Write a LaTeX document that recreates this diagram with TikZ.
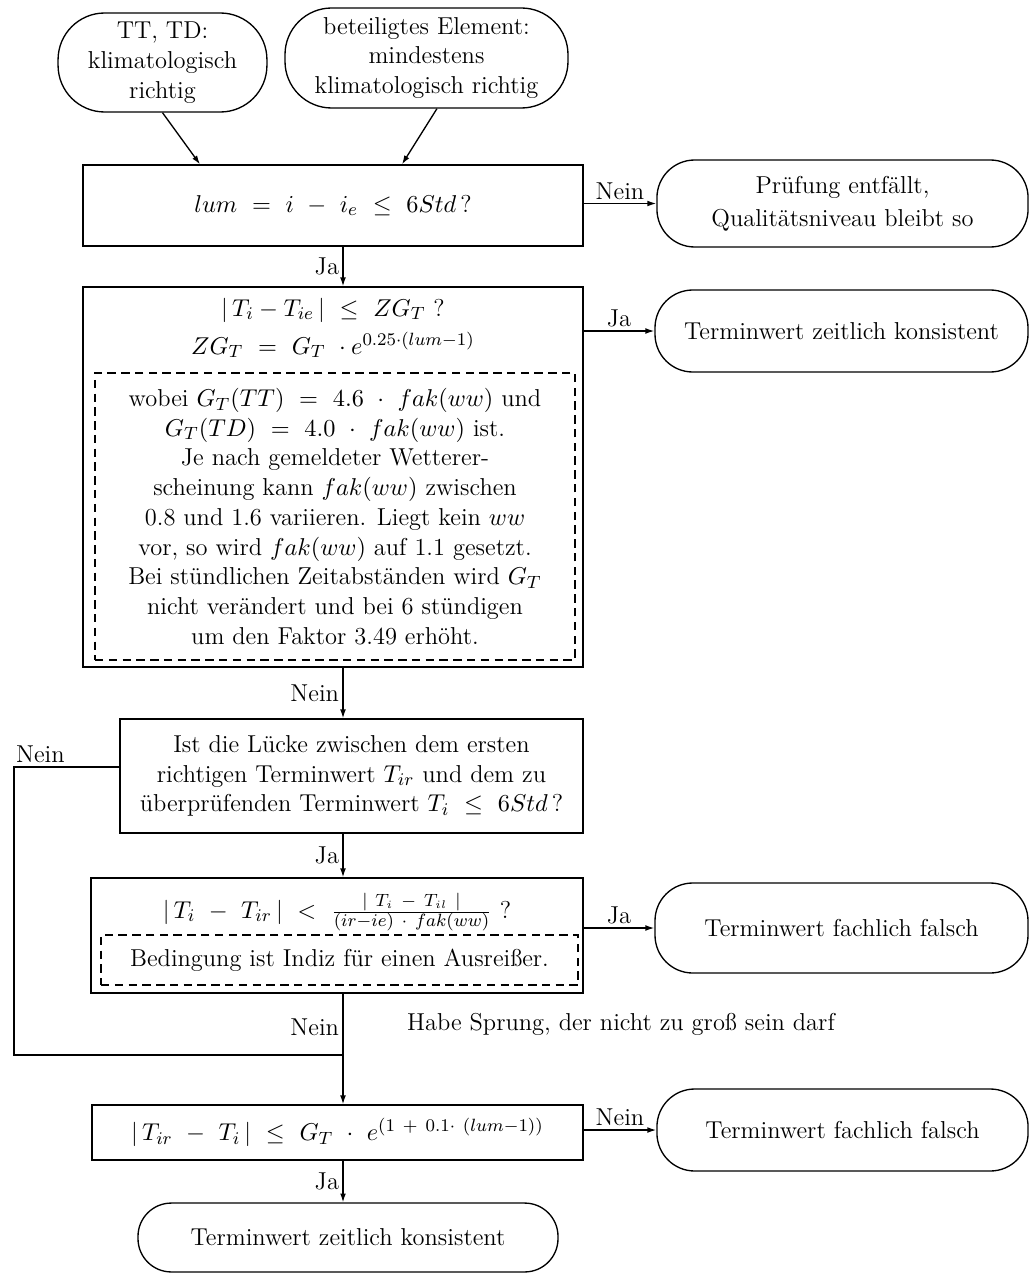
\documentclass[tikz,border=0pt]{standalone}
\usepackage{fontspec}
\usetikzlibrary{arrows.meta}
\begin{document}
\begin{tikzpicture}[x=0.45pt,y=-0.45pt,
  every node/.style={font=\fontsize{11}{13.4}\selectfont},
  box/.style={draw, line width=0.6pt, rectangle, inner sep=0pt, align=center},
  term/.style={draw, line width=0.6pt, rounded corners=17pt, align=center, inner sep=0pt},
  wide/.style={font=\fontsize{11}{15}\selectfont},
  note/.style={draw, line width=0.5pt, dash pattern=on 3.8pt off 2.4pt, inner sep=0pt, align=center},
  flow/.style={line width=0.6pt, -{Latex[length=4pt,width=2.6pt]}},
  link/.style={line width=0.6pt},
  lab/.style={inner sep=1.5pt}
]
\useasboundingbox (0,0) rectangle (1030,1276);

% start conditions
\node[term, rounded corners=21pt, minimum width=94pt, minimum height=44.55pt] (T1) at (162.5,62.5)
  {TT, TD:\\klimatologisch\\richtig};
\node[term, rounded corners=21pt, minimum width=127.35pt, minimum height=45pt] (T2) at (426.5,58)
  {beteiligtes Element:\\mindestens\\klimatologisch richtig};

% first test
\node[box, minimum width=225pt, minimum height=36.45pt] (B1) at (333,205.5)
  {$lum\ =\ i\ -\ i_e\ \leq\ 6Std$\,?};
\node[term, wide, minimum width=167pt, minimum height=39.15pt] (R1) at (842.5,203.5)
  {Prüfung entfällt,\\Qualitätsniveau bleibt so};

% time consistency test
\node[box, minimum width=225pt, minimum height=171pt] (B2) at (333,477) {};
\node (F1) at (333,310) {$|\,T_i - T_{ie}\,|\ \leq\ ZG_T$ ?};
\node (F2) at (333,345) {$ZG_T\ =\ G_T\ \cdot e^{0.25\cdot(lum-1)}$};
\node[note, minimum width=216pt, minimum height=129.15pt] (N1) at (335,516.5)
  {wobei $G_T(TT)\ =\ 4.6\ \cdot\ fak(ww)$ und\\
   $G_T(TD)\ =\ 4.0\ \cdot\ fak(ww)$ ist.\\
   Je nach gemeldeter Wetterer-\\
   scheinung kann $fak(ww)$ zwischen\\
   0.8 und 1.6 variieren. Liegt kein $ww$\\
   vor, so wird $fak(ww)$ auf 1.1 gesetzt.\\
   Bei stündlichen Zeitabständen wird $G_T$\\
   nicht verändert und bei 6 stündigen\\
   um den Faktor 3.49 erhöht.};
\node[term, minimum width=167.85pt, minimum height=36.9pt] (R2) at (841.5,331)
  {Terminwert zeitlich konsistent};

% gap test
\node[box, minimum width=208.35pt, minimum height=51.3pt] (B3) at (351.5,776)
  {Ist die Lücke zwischen dem ersten\\
   richtigen Terminwert $T_{ir}$ und dem zu\\
   überprüfenden Terminwert $T_i\ \leq\ 6Std$\,?};

% outlier test
\node[box, minimum width=221.4pt, minimum height=51.75pt] (B4) at (337,935.5) {};
\node (F3) at (337,912)
  {$|\,T_i\ -\ T_{ir}\,|\ <\ \frac{|\ T_i\ -\ T_{il}\ |}{(ir-ie)\ \cdot\ fak(ww)}$ ?};
\node[note, minimum width=214.65pt, minimum height=22.5pt] (N2) at (339.5,960)
  {Bedingung ist Indiz für einen Ausreißer.};
\node[term, minimum width=167.85pt, minimum height=40.5pt] (R3) at (841.5,928)
  {Terminwert fachlich falsch};

\node (S) at (621,1024) {Habe Sprung, der nicht zu groß sein darf};

% jump size test
\node[box, minimum width=221pt, minimum height=24.75pt] (B5) at (337.5,1132.5)
  {$|\,T_{ir}\ -\ T_i\,|\ \leq\ G_T\ \cdot\ e^{(1\ +\ 0.1\cdot\ (lum-1))}$};
\node[term, minimum width=167pt, minimum height=36.9pt] (R4) at (842.5,1130)
  {Terminwert fachlich falsch};
\node[term, rounded corners=15pt, minimum width=189pt, minimum height=31pt] (T3) at (348,1237.5)
  {Terminwert zeitlich konsistent};

% routing points
\coordinate (colx) at (343,0);
\coordinate (loop) at (14,1055);

% connectors
\draw[flow] (T1.south) -- ([xshift=-59.85pt]B1.north);
\draw[flow] ([xshift=4.7pt]T2.south) -- ([xshift=31.05pt]B1.north);
\draw[flow] (B1.east |- R1.west) -- node[lab,above]{Nein} (R1.west);
\draw[flow] (B1.south -| colx) -- node[lab,left]{Ja} (B2.north -| colx);
\draw[flow] (B2.east |- R2.west) -- node[lab,above]{Ja} (R2.west);
\draw[flow] (B2.south -| colx) -- node[lab,left]{Nein} (B3.north -| colx);
\draw[link] ([yshift=4.05pt]B3.west) -- node[lab,above,pos=0.75]{Nein} ([yshift=4.05pt]B3.west -| loop)
  -- (loop) -- (loop -| colx);
\draw[flow] (B3.south -| colx) -- node[lab,left]{Ja} (B4.north -| colx);
\draw[flow] (B4.east |- R3.west) -- node[lab,above]{Ja} (R3.west);
\draw[flow] (B4.south -| colx) -- node[lab,left,pos=0.3]{Nein} (B5.north -| colx);
\draw[flow] (B5.east |- R4.west) -- node[lab,above]{Nein} (R4.west);
\draw[flow] (B5.south -| colx) -- node[lab,left]{Ja} (T3.north -| colx);
\end{tikzpicture}
\end{document}
